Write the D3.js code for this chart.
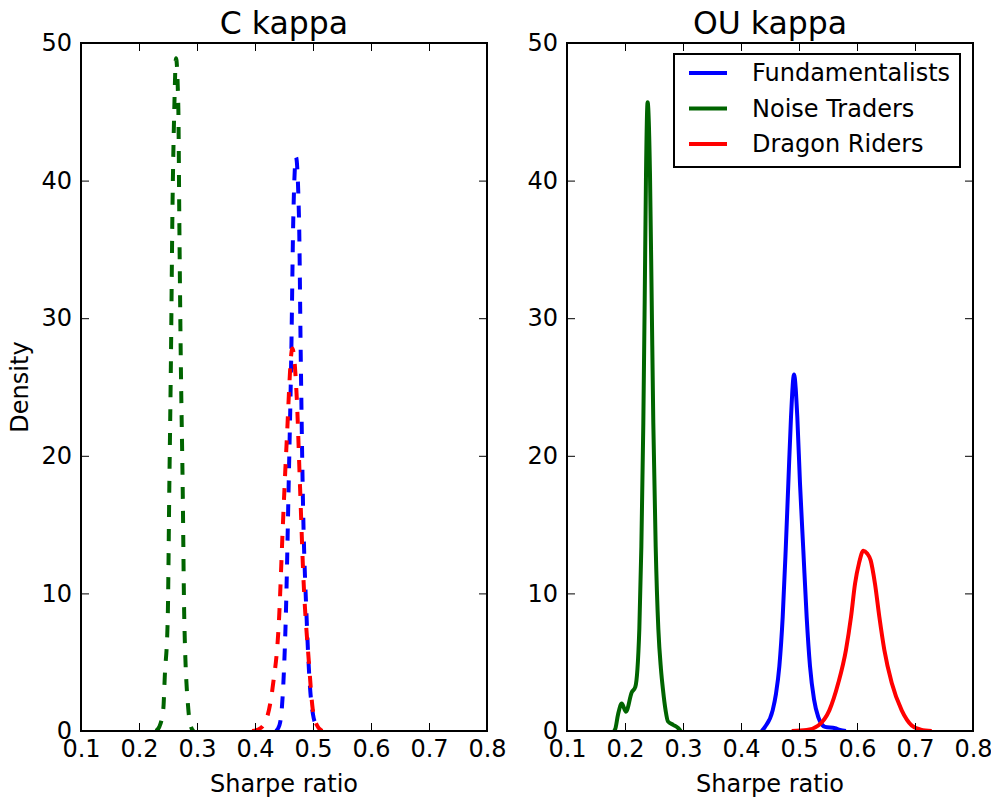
<!DOCTYPE html>
<html>
<head>
<meta charset="utf-8">
<script src="https://cdn.jsdelivr.net/npm/d3@7"></script>
<style>
  body { margin: 0; background: #fff; }
  svg { display: block; font-family: "DejaVu Sans", sans-serif; }
</style>
</head>
<body>
<div id="chart"></div>
<script>
// density curves, [sharpe ratio, density]
const cBlue = [[0.436,0],[0.442,0.4],[0.446,1.5],[0.4495,4],[0.453,8.1],[0.458,17.8],[0.4626,27.5],[0.466,37.2],[0.4707,41.7],[0.4759,37.2],[0.4788,27.5],[0.4822,17.8],[0.4891,8.1],[0.4948,3.2],[0.5,1.2],[0.506,0.4],[0.515,0]];
const cGreen = [[0.229,0],[0.235,0.3],[0.2419,1.6],[0.2445,4],[0.2495,8.1],[0.2523,17.8],[0.2552,27.5],[0.2575,37.2],[0.2609,45.3],[0.2638,48.9],[0.2678,45.3],[0.2695,37.2],[0.2719,27.5],[0.2753,17.8],[0.2781,8.1],[0.285,1.6],[0.289,0.4],[0.294,0]];
const cRed = [[0.395,0],[0.405,0.1],[0.4144,0.4],[0.4305,3.2],[0.4414,8.1],[0.4477,14.6],[0.4546,21],[0.4644,27.8],[0.4719,24.3],[0.4776,17.8],[0.4833,11.3],[0.4931,4.9],[0.4995,1.6],[0.507,0.4],[0.516,0]];

const ouBlue = [[0.4357,0],[0.4414,0.3],[0.4546,1.5],[0.4603,2.7],[0.4661,4.7],[0.4719,8.3],[0.477,13.1],[0.4816,18],[0.4862,22.8],[0.4914,25.9],[0.4971,22.8],[0.5017,18],[0.5075,13.1],[0.5132,8.3],[0.519,4.7],[0.5259,2.3],[0.5333,1.0],[0.5448,0.3],[0.5621,0.2],[0.5707,0.07],[0.581,0]];
const ouGreen = [[0.18,0],[0.1828,0.1],[0.188,1.2],[0.1943,2.0],[0.2017,1.4],[0.2115,2.8],[0.2178,3.2],[0.2247,7.4],[0.2282,13.4],[0.2316,22.4],[0.234,31.4],[0.2362,40.4],[0.239,45.7],[0.2431,40.4],[0.246,31.4],[0.2488,22.4],[0.2529,13.4],[0.2575,7.4],[0.262,4.5],[0.2655,3.0],[0.27,1.5],[0.274,0.7],[0.283,0.45],[0.292,0.2],[0.296,0]];
const ouRed = [[0.4874,0],[0.5132,0.07],[0.5333,0.4],[0.5523,1.5],[0.5678,3.5],[0.581,5.9],[0.5897,8.3],[0.5966,10.7],[0.6035,12.2],[0.6109,13.1],[0.6175,12.9],[0.6236,12.4],[0.631,10.7],[0.6385,8.3],[0.6471,5.9],[0.6598,3.5],[0.6771,1.5],[0.6943,0.4],[0.71,0.1],[0.7288,0]];

const seriesNames = ['Fundamentalists','Noise Traders','Dragon Riders'];
const seriesColors = ['#0000ff','#006400','#ff0000'];
const xTicks = [0.1,0.2,0.3,0.4,0.5,0.6,0.7,0.8];
const yTicks = [0,10,20,30,40,50];
const panelTitles = ['C kappa','OU kappa'];

const W = 991, H = 798;
const svg = d3.select('#chart').append('svg').attr('width',W).attr('height',H);

const panels = [
  { title: panelTitles[0], x0: 81, x1: 487, data: [cBlue,cGreen,cRed], dash: '12,12', ylabel: true, legend: false },
  { title: panelTitles[1], x0: 567, x1: 973, data: [ouBlue,ouGreen,ouRed], dash: null, ylabel: false, legend: true }
];
const plotTop = 43, plotBottom = 731;

panels.forEach((p,pi)=>{
  const x = d3.scaleLinear().domain([0.1,0.8]).range([p.x0,p.x1]);
  const y = d3.scaleLinear().domain([0,50]).range([plotBottom,plotTop]);
  const g = svg.append('g');

  const clipId = 'clip'+pi;
  svg.append('clipPath').attr('id',clipId).append('rect')
    .attr('x',p.x0).attr('y',plotTop).attr('width',p.x1-p.x0).attr('height',plotBottom-plotTop);

  const line = d3.line().x(d=>x(d[0])).y(d=>y(d[1])).curve(d3.curveMonotoneX);
  const lines = g.append('g').attr('clip-path',`url(#${clipId})`);
  p.data.forEach((d,i)=>{
    lines.append('path').datum(d).attr('d',line)
      .attr('fill','none').attr('stroke',seriesColors[i]).attr('stroke-width',4)
      .attr('stroke-dasharray',p.dash).attr('stroke-linejoin','round');
  });

  // axes with inward ticks on all four sides
  const style = sel => {
    sel.select('.domain').remove();
    sel.selectAll('.tick line').attr('stroke','#000').attr('stroke-width',1);
    sel.selectAll('.tick text').attr('font-size',24).attr('fill','#000').attr('font-family','DejaVu Sans');
  };
  g.append('g').attr('transform',`translate(0,${plotBottom})`)
    .call(d3.axisBottom(x).tickValues(xTicks).tickFormat(d3.format('.1f')).tickSizeInner(-8).tickSizeOuter(0).tickPadding(9)).call(style);
  g.append('g').attr('transform',`translate(0,${plotTop})`)
    .call(d3.axisTop(x).tickValues(xTicks).tickFormat('').tickSizeInner(-8).tickSizeOuter(0)).call(style);
  g.append('g').attr('transform',`translate(${p.x0},0)`)
    .call(d3.axisLeft(y).tickValues(yTicks).tickFormat(d3.format('d')).tickSizeInner(-8).tickSizeOuter(0).tickPadding(9)).call(style);
  g.append('g').attr('transform',`translate(${p.x1},0)`)
    .call(d3.axisRight(y).tickValues(yTicks).tickFormat('').tickSizeInner(-8).tickSizeOuter(0)).call(style);

  g.append('rect').attr('x',p.x0).attr('y',plotTop).attr('width',p.x1-p.x0).attr('height',plotBottom-plotTop)
    .attr('fill','none').attr('stroke','#000').attr('stroke-width',2);

  g.append('text').attr('x',(p.x0+p.x1)/2).attr('y',34).attr('text-anchor','middle')
    .attr('font-size',31.5).text(p.title);
  g.append('text').attr('x',(p.x0+p.x1)/2).attr('y',792).attr('text-anchor','middle')
    .attr('font-size',24).text('Sharpe ratio');
  if(p.ylabel){
    g.append('text').attr('transform',`translate(28,${(plotTop+plotBottom)/2}) rotate(-90)`)
      .attr('text-anchor','middle').attr('font-size',24).text('Density');
  }

  if(p.legend){
    const lg = g.append('g').attr('transform','translate(674,54)');
    lg.append('rect').attr('width',286).attr('height',113).attr('fill','#fff').attr('stroke','#000').attr('stroke-width',2);
    seriesNames.forEach((n,i)=>{
      const ly = 19 + i*35.5;
      lg.append('line').attr('x1',15).attr('x2',53).attr('y1',ly).attr('y2',ly)
        .attr('stroke',seriesColors[i]).attr('stroke-width',4);
      lg.append('text').attr('x',78).attr('y',ly).attr('dy','0.35em').attr('font-size',24).text(n);
    });
  }
});
</script>
</body>
</html>
